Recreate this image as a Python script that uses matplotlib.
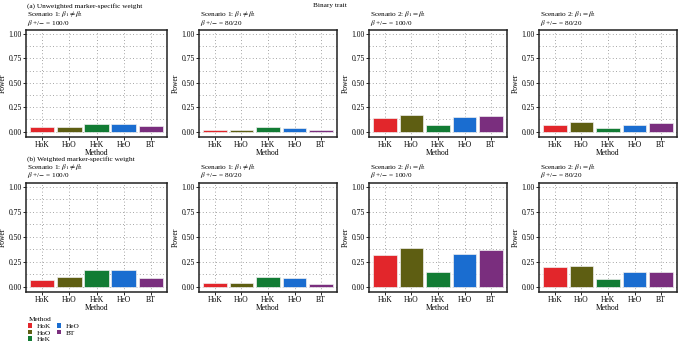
import matplotlib
matplotlib.use("Agg")
import matplotlib.pyplot as plt
from matplotlib.patches import Patch
import numpy as np

methods = ["HoK", "HoO", "HeK", "HeO", "BT"]
colors = ["#e2262b", "#5e5e12", "#127c34", "#1a6dd0", "#7a2e7e"]

# power values per panel (row a: unweighted, row b: weighted)
a_s1_100 = [0.045, 0.050, 0.079, 0.079, 0.055]
a_s1_80 = [0.017, 0.020, 0.045, 0.041, 0.020]
a_s2_100 = [0.137, 0.175, 0.072, 0.154, 0.164]
a_s2_80 = [0.072, 0.096, 0.038, 0.072, 0.089]
b_s1_100 = [0.068, 0.093, 0.170, 0.170, 0.085]
b_s1_80 = [0.034, 0.034, 0.100, 0.085, 0.027]
b_s2_100 = [0.318, 0.390, 0.145, 0.330, 0.370]
b_s2_80 = [0.196, 0.206, 0.074, 0.145, 0.145]

scenarios = [r"Scenario 1: $\beta_1 \neq \beta_2$", r"Scenario 1: $\beta_1 \neq \beta_2$",
             r"Scenario 2: $\beta_1 = \beta_2$", r"Scenario 2: $\beta_1 = \beta_2$"]
ratios = [r"$\beta$ +/$-$ = 100/0", r"$\beta$ +/$-$ = 80/20",
          r"$\beta$ +/$-$ = 100/0", r"$\beta$ +/$-$ = 80/20"]
rows = [[a_s1_100, a_s1_80, a_s2_100, a_s2_80],
        [b_s1_100, b_s1_80, b_s2_100, b_s2_80]]
row_titles = ["(a) Unweighted marker-specific weight", "(b) Weighted marker-specific weight"]

plt.rcParams["font.family"] = ["Liberation Serif", "DejaVu Serif"]
plt.rcParams["mathtext.fontset"] = "stix"
fs = 5.5
tfs = 5.2

W, H = 679, 349
fig = plt.figure(figsize=(W / 100, H / 100), dpi=100)

lefts = [26, 199, 369, 539]
widths = [141, 138, 138, 138]
row_tops = [30, 183]
row_bottoms = [137, 292]

x = np.arange(1, len(methods) + 1)
for r in range(2):
    top, bot = row_tops[r], row_bottoms[r]
    fig.text(27 / W, 1 - (top - 24) / H, row_titles[r], fontsize=tfs, ha="left", va="center")
    for c in range(4):
        ax = fig.add_axes([lefts[c] / W, 1 - bot / H, widths[c] / W, (bot - top) / H])
        ax.bar(x, rows[r][c], width=0.9, color=colors, edgecolor="#eeeeee", linewidth=0.5, zorder=3)
        ax.set_xlim(0.4, 5.6)
        ax.set_ylim(-0.055, 1.04)
        ax.set_yticks([0, 0.25, 0.5, 0.75, 1.0])
        ax.set_yticklabels(["0.00", "0.25", "0.50", "0.75", "1.00"])
        ax.set_yticks(np.arange(0.125, 1.0, 0.25), minor=True)
        ax.set_xticks(x)
        ax.set_xticklabels(methods)
        ax.tick_params(labelsize=fs, length=2, width=0.6, pad=1)
        ax.tick_params(axis="y", which="minor", length=0)
        ax.grid(True, which="both", axis="y", linestyle=(0, (1, 3)), color="#888888", linewidth=0.6, zorder=0)
        ax.grid(True, which="major", axis="x", linestyle=(0, (1, 3)), color="#888888", linewidth=0.6, zorder=0)
        for s in ax.spines.values():
            s.set_linewidth(1.1)
            s.set_color("#222222")
        ax.set_xlabel("Method", fontsize=fs, labelpad=0)
        ax.set_ylabel("Power", fontsize=fs, labelpad=1)
        fig.text((lefts[c] + 1) / W, 1 - (top - 16) / H, scenarios[c], fontsize=tfs, ha="left", va="center")
        fig.text((lefts[c] + 1) / W, 1 - (top - 7.5) / H, ratios[c], fontsize=tfs, ha="left", va="center")

fig.text(330 / W, 1 - 5 / H, "Binary trait", fontsize=tfs, ha="center", va="center")

handles = [Patch(facecolor=col, edgecolor="none", label=m) for m, col in zip(methods, colors)]
leg = fig.legend(handles=handles, loc="upper left", bbox_to_anchor=(24 / W, 1 - 313 / H), ncol=2,
                 fontsize=5.2, title="Method", title_fontsize=5.2, frameon=False,
                 handlelength=0.55, handleheight=0.55, handletextpad=0.6, labelspacing=0.12,
                 columnspacing=0.9, borderpad=0.1)
leg._legend_box.align = "left"

fig.savefig("out.png", dpi=100)
